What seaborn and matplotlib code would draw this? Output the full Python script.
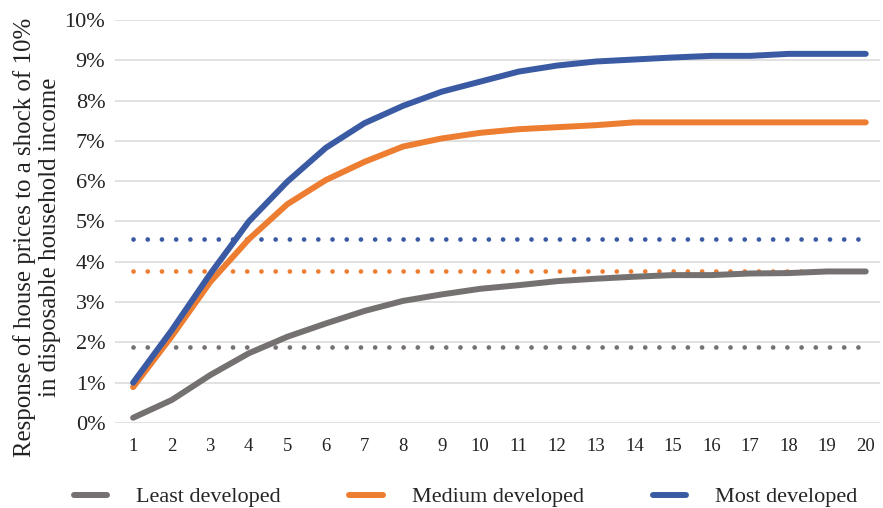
import pandas as pd
import seaborn as sns
import matplotlib.pyplot as plt
import numpy as np

# Data (response in %)
years = list(range(1, 21))
least = [0.13, 0.57, 1.19, 1.73, 2.14, 2.47, 2.78, 3.03, 3.19, 3.33,
         3.42, 3.52, 3.58, 3.63, 3.67, 3.67, 3.71, 3.72, 3.76, 3.76]
medium = [0.89, 2.15, 3.50, 4.56, 5.43, 6.03, 6.48, 6.86, 7.06, 7.20,
          7.29, 7.34, 7.39, 7.46, 7.46, 7.46, 7.46, 7.46, 7.46, 7.46]
most = [1.00, 2.30, 3.70, 5.00, 5.99, 6.83, 7.44, 7.87, 8.22, 8.47,
        8.72, 8.87, 8.97, 9.02, 9.07, 9.11, 9.11, 9.16, 9.16, 9.16]
# dotted reference levels
avg_least = 1.89
avg_medium = 3.77
avg_most = 4.57

names = ["Least developed", "Medium developed", "Most developed"]
colors = ["#767171", "#ED7D31", "#3A5BA3"]

df = pd.DataFrame({"year": years * 3,
                   "value": np.array(least + medium + most) / 100,
                   "group": sum([[n] * 20 for n in names], [])})

sns.set_theme(style="white")
plt.rcParams['font.family'] = ['Liberation Serif', 'DejaVu Serif']

fig = plt.figure(figsize=(8.83, 5.08), dpi=100)
ax = fig.add_axes([115 / 883, 85 / 508, 765 / 883, 403 / 508])

# dotted average lines
for lvl, c in zip([avg_least, avg_medium, avg_most], colors):
    ax.plot([1, 20], [lvl / 100] * 2, color=c, lw=3.4,
            linestyle=(0, (0.01, 3.0)), dash_capstyle="round", zorder=2)

sns.lineplot(data=df, x="year", y="value", hue="group", palette=colors,
             linewidth=4.3, ax=ax, legend=False, zorder=3,
             solid_capstyle="round")

ax.set_xlim(0.53, 20.37)
ax.set_ylim(0, 0.10)
ax.set_yticks(np.arange(0, 0.101, 0.01))
ax.set_yticklabels([f"{i}%" for i in range(11)])
ax.set_xticks(years)
ax.set_xticklabels([str(y) for y in years])
ax.yaxis.grid(True, color="#D9D9D9", linewidth=1.1)
ax.set_axisbelow(True)
for s in ax.spines.values():
    s.set_visible(False)
ax.tick_params(axis="both", length=0, colors="#222222")
ax.tick_params(axis="y", pad=7, labelsize=16)
ax.tick_params(axis="x", pad=11, labelsize=13.5)
ax.set_xlabel("")
ax.set_ylabel("")

fig.text(37 / 883, (508 - 237) / 508,
         "Response of house prices to a shock of 10%\nin disposable household income",
         rotation=90, ha="center", va="center", multialignment="center",
         fontsize=17.9, linespacing=1.12, color="#222222")

handles = [plt.Line2D([], [], color=c, lw=4.3, solid_capstyle="round") for c in colors]
fig.legend(handles, names, loc="center", bbox_to_anchor=(0.527, 11 / 508),
           ncol=3, frameon=False, fontsize=16, handlelength=1.5,
           columnspacing=3.1, handletextpad=1.3)

plt.savefig("out.png", dpi=100)
